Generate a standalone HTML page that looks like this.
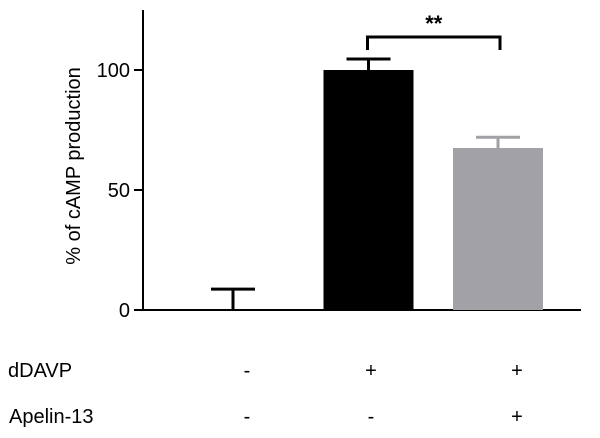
<!DOCTYPE html>
<html><head><meta charset="utf-8"><style>
html,body{margin:0;padding:0;background:#fff;}
svg{display:block;font-family:"Liberation Sans",Arial,sans-serif;}
</style></head><body>
<svg id="chart" width="600" height="438" viewBox="0 0 600 438">
<g id="axes"></g>
<g id="bars"></g>
<g id="labels"></g>
<text x="0" y="0" transform="translate(80,166) rotate(-90)" text-anchor="middle" font-size="20" fill="#000">% of cAMP production</text>
</svg>
<script>
const categories = ["control", "dDAVP", "dDAVP+Apelin-13"];
const values = [0, 100, 67.5];
const errors = [8.7, 4.6, 4.5];
const colors = ["#000000", "#000000", "#a2a2a6"];
const yTicks = [0, 50, 100];
const dDAVPRow = ["-", "+", "+"];
const apelinRow = ["-", "-", "+"];
const sigLabel = "**";

const NS = "http://www.w3.org/2000/svg";
const y = v => 310 - v * 2.4;
const xCenter = i => 233 + i * 135.5 - (i === 2 ? 6 : 0);
const barW = 90;
function mk(tag, attrs, parent) {
  const e = document.createElementNS(NS, tag);
  for (const k in attrs) e.setAttribute(k, attrs[k]);
  parent.appendChild(e);
  return e;
}
const axes = document.getElementById("axes");
const bars = document.getElementById("bars");
const labels = document.getElementById("labels");

const ya = mk("line", {x1:143, y1:10, x2:143, y2:311, stroke:"#000", "stroke-width":2}, axes);


const xa = mk("line", {x1:142, y1:310, x2:581, y2:310, stroke:"#000", "stroke-width":2}, axes);


yTicks.forEach(t => {
  const tk = mk("line", {x1:134, y1:y(t), x2:143, y2:y(t), stroke:"#000", "stroke-width":2}, axes);
  
  
  const tl = mk("text", {x:130, y:y(t)+7, "text-anchor":"end", "font-size":20}, axes);
  tl.textContent = t;
  
  
});

values.forEach((v, i) => {
  const cx = xCenter(i);
  if (v > 0) {
    const b = mk("rect", {x:cx-barW/2, y:y(v), width:barW, height:y(0)-y(v), fill:colors[i]}, bars);
    
    
  }
  const ec = colors[i];
  const el = mk("line", {x1:cx, y1:y(v), x2:cx, y2:y(v+errors[i]), stroke:ec, "stroke-width":3}, bars);
  
  
  const cap = mk("line", {x1:cx-22, y1:y(v+errors[i]), x2:cx+22, y2:y(v+errors[i]), stroke:ec, "stroke-width":3}, bars);
  
  
});

// significance bracket between bar 1 and bar 2
const bx1 = xCenter(1) - 1, bx2 = xCenter(2) + 2;
const br = mk("path", {d:`M${bx1},50 V37 H${bx2} V50`, fill:"none", stroke:"#000", "stroke-width":3}, bars);


const st = mk("text", {x:(bx1+bx2)/2, y:31, "text-anchor":"middle", "font-size":22, "font-weight":"bold"}, bars);
st.textContent = sigLabel;



const rowX = [247, 371, 517];
const r1 = mk("text", {x:8, y:377, "font-size":20}, labels);
r1.textContent = "dDAVP";


const r2 = mk("text", {x:9, y:423, "font-size":20}, labels);
r2.textContent = "Apelin-13";


dDAVPRow.forEach((s, i) => {
  const t = mk("text", {x:rowX[i], y:377, "text-anchor":"middle", "font-size":20}, labels);
  t.textContent = s;
  
  
});
apelinRow.forEach((s, i) => {
  const t = mk("text", {x:rowX[i], y:423, "text-anchor":"middle", "font-size":20}, labels);
  t.textContent = s;
  
  
});
</script>
</body></html>
